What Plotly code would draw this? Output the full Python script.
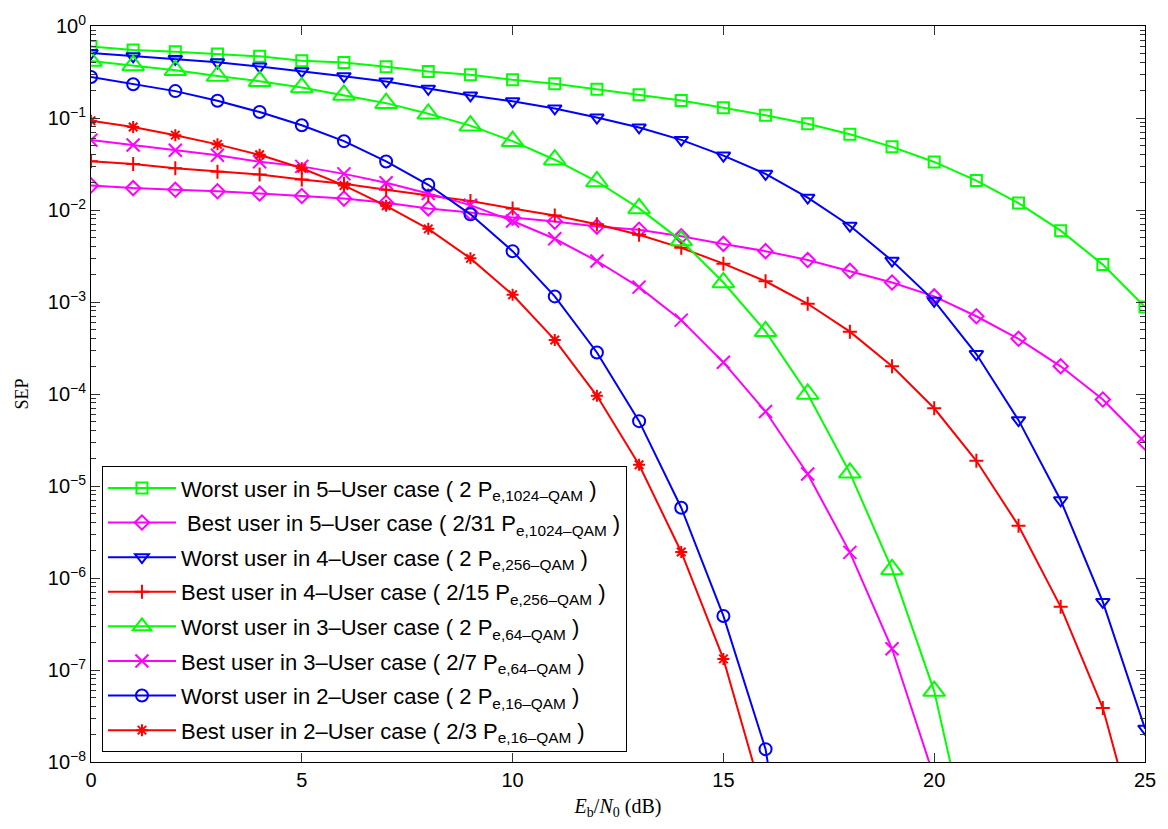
import plotly.graph_objects as go

# ---------------- data ----------------
snr_db = list(range(26))

worst_5user = [0.60, 0.55, 0.525, 0.496, 0.468, 0.42, 0.40, 0.36, 0.32, 0.295, 0.26, 0.236,
               0.205, 0.179, 0.155, 0.129, 0.107, 0.0867, 0.0666, 0.0486, 0.0333, 0.0209,
               0.0119, 0.00596, 0.00255, 0.000883]
best_5user = [0.0185, 0.0173, 0.0166, 0.016, 0.0151, 0.0142, 0.0133, 0.012, 0.0104, 0.0094,
              0.0083, 0.00748, 0.0066, 0.0061, 0.00517, 0.00428, 0.00357, 0.00286, 0.00218,
              0.00163, 0.00115, 0.0007, 0.000398, 0.0002, 8.7e-5, 2.97e-5]
worst_4user = [0.508, 0.468, 0.438, 0.403, 0.362, 0.323, 0.285, 0.25, 0.208, 0.176, 0.152,
               0.127, 0.101, 0.079, 0.0578, 0.039, 0.0247, 0.0136, 0.00675, 0.00281, 0.00103,
               0.000272, 5.2e-5, 7e-6, 5.5e-7, 2.3e-8]
best_4user = [0.0338, 0.0316, 0.0284, 0.0261, 0.0243, 0.0214, 0.0193, 0.0166, 0.0144, 0.0125,
              0.0104, 0.0087, 0.0070, 0.00538, 0.00388, 0.00261, 0.00168, 0.000957, 0.000476,
              0.0002, 7e-5, 1.88e-5, 3.7e-6, 4.86e-7, 3.86e-8, 8e-10]
worst_3user = [0.416, 0.373, 0.33, 0.286, 0.251, 0.215, 0.178, 0.145, 0.111, 0.0826, 0.056,
               0.0352, 0.0204, 0.0104, 0.00465, 0.00163, 0.00048, 1.0e-4, 1.39e-5, 1.24e-6,
               5.9e-8, 5.5e-10]
best_3user = [0.0575, 0.0509, 0.0447, 0.0394, 0.0334, 0.0298, 0.0247, 0.0198, 0.0151, 0.0113,
              0.0076, 0.00487, 0.00279, 0.00145, 0.000635, 0.000221, 6.45e-5, 1.35e-5, 1.9e-6,
              1.7e-7, 6.8e-9]
worst_2user = [0.279, 0.233, 0.196, 0.154, 0.116, 0.0833, 0.056, 0.0337, 0.0188, 0.00897,
               0.00357, 0.00115, 0.000283, 5.07e-5, 5.8e-6, 3.87e-7, 1.38e-8, 2e-11]
best_2user = [0.0935, 0.08, 0.0651, 0.0517, 0.0398, 0.0284, 0.0185, 0.0111, 0.00624, 0.00298,
              0.0012, 0.000387, 9.55e-5, 1.7e-5, 1.92e-6, 1.32e-7, 3.3e-9]

labels = [
    "Worst user in 5\u2013User case ( 2 P<sub>e,1024\u2013QAM</sub> )",
    " Best user in 5\u2013User case ( 2/31 P<sub>e,1024\u2013QAM</sub> )",
    "Worst user in 4\u2013User case ( 2 P<sub>e,256\u2013QAM</sub> )",
    "Best user in 4\u2013User case ( 2/15 P<sub>e,256\u2013QAM</sub> )",
    "Worst user in 3\u2013User case ( 2 P<sub>e,64\u2013QAM</sub> )",
    "Best user in 3\u2013User case ( 2/7 P<sub>e,64\u2013QAM</sub> )",
    "Worst user in 2\u2013User case ( 2 P<sub>e,16\u2013QAM</sub> )",
    "Best user in 2\u2013User case ( 2/3 P<sub>e,16\u2013QAM</sub> )",
]
series = [worst_5user, best_5user, worst_4user, best_4user,
          worst_3user, best_3user, worst_2user, best_2user]

ytick_vals = [10.0 ** k for k in range(-8, 1)]
ytick_text = ["10<sup>\u2212%d</sup>" % (-k) if k < 0 else "10<sup>0</sup>" for k in range(-8, 1)]
yminor_vals = [m * 10.0 ** k for k in range(-8, 0) for m in range(2, 10)]
xtick_vals = [0, 5, 10, 15, 20, 25]

# ---------------- styles ----------------
GREEN, MAGENTA, BLUE, RED = "#00FF00", "#FF00FF", "#0000FF", "#FF0000"
styles = [
    (GREEN, "square-open", 11),
    (MAGENTA, "diamond-open", 11),
    (BLUE, "triangle-down-open", 12),
    (RED, "cross-thin-open", 10),
    (GREEN, "triangle-up-open", 19),
    (MAGENTA, "x-thin-open", 13),
    (BLUE, "circle-open", 12),
    (RED, "asterisk-open", 10),
]

fig = go.Figure()
for i, (ys, name, (col, sym, sz)) in enumerate(zip(series, labels, styles)):
    fig.add_trace(go.Scatter(
        x=snr_db[:len(ys)], y=ys, name=name, mode="lines+markers",
        legendgroup="g%d" % i,
        line=dict(color=col, width=2),
        marker=dict(symbol=sym, size=sz, color=col, line=dict(color=col, width=2)),
    ))

FONT = "Liberation Sans, Arial, sans-serif"
SERIF = "Liberation Serif, DejaVu Serif, serif"

fig.update_layout(
    width=1168, height=829,
    margin=dict(l=91, r=23, t=15, b=67),
    paper_bgcolor="white", plot_bgcolor="white",
    font=dict(family=FONT, size=20, color="black"),
    showlegend=True,
    legend=dict(
        x=0.0104, y=0.0134, xanchor="left", yanchor="bottom",
        bgcolor="white", bordercolor="black", borderwidth=1,
        font=dict(family=FONT, size=22, color="black"),
        itemwidth=68, tracegroupgap=3,
    ),
    xaxis=dict(
        range=[0, 25], tickvals=xtick_vals, ticks="inside", ticklen=9, tickcolor="#333",
        showline=True, linecolor="black", linewidth=1, mirror="ticks",
        showgrid=False, zeroline=False,
        tickfont=dict(family=FONT, size=20),
        title=dict(text="<i>E</i><sub>b</sub>/<i>N</i><sub>0</sub> (dB)",
                   font=dict(family=SERIF, size=20), standoff=8),
    ),
    yaxis=dict(
        type="log", range=[-8, 0], tickvals=ytick_vals, ticktext=ytick_text,
        ticks="inside", ticklen=9, tickcolor="#333",
        minor=dict(tickmode="array", tickvals=yminor_vals, ticks="inside", ticklen=5,
                   tickcolor="#333", showgrid=False),
        showline=True, linecolor="black", linewidth=1, mirror="ticks",
        showgrid=False, zeroline=False,
        tickfont=dict(family=FONT, size=20),
        title=dict(text="SEP", font=dict(family=SERIF, size=18), standoff=14),
    ),
)

fig.write_html("out.html")
